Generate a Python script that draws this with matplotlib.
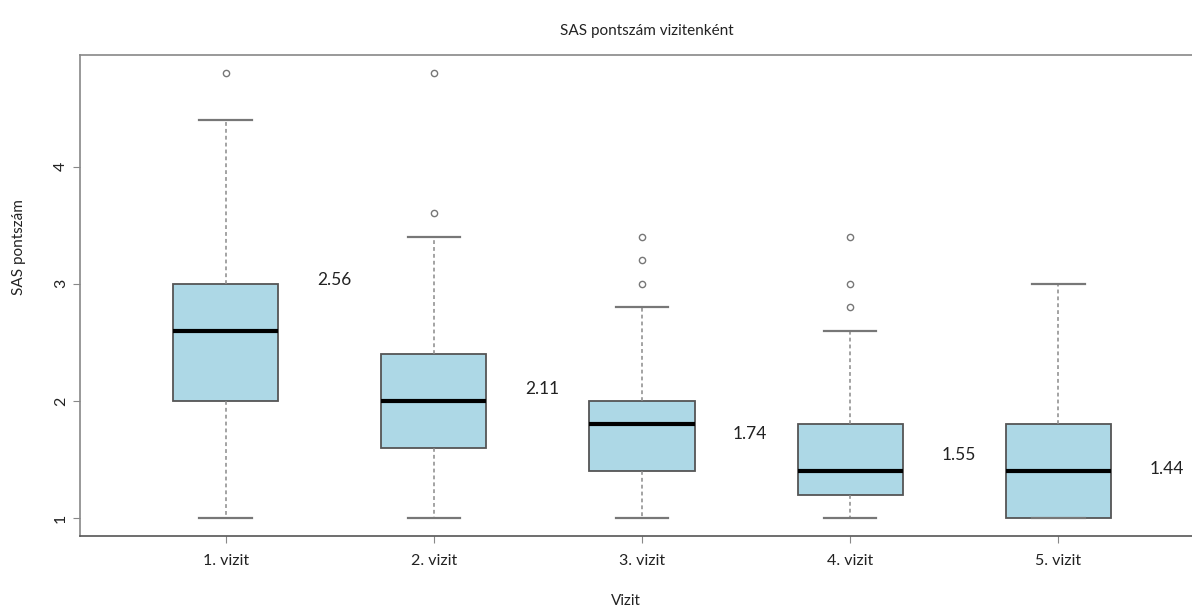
import matplotlib
matplotlib.use("Agg")
import matplotlib.pyplot as plt

# data
visits = ["1. vizit", "2. vizit", "3. vizit", "4. vizit", "5. vizit"]
whisker_low = [1.0, 1.0, 1.0, 1.0, 1.0]
q1 = [2.0, 1.6, 1.4, 1.2, 1.0]
medians = [2.6, 2.0, 1.8, 1.4, 1.4]
q3 = [3.0, 2.4, 2.0, 1.8, 1.8]
whisker_high = [4.4, 3.4, 2.8, 2.6, 3.0]
outliers = [[4.8], [3.6, 4.8], [3.0, 3.2, 3.4], [2.8, 3.0, 3.4], []]
means = ["2.56", "2.11", "1.74", "1.55", "1.44"]
mean_label_y = [3.03, 2.10, 1.72, 1.54, 1.42]

plt.rcParams["font.family"] = ["Lato", "DejaVu Sans"]

fig = plt.figure(figsize=(11.92, 6.10), dpi=100)
# axes run past the right edge, as in the cropped original
ax = fig.add_axes([0.0671, 0.1213, 0.943, 0.7885])

stats = []
for i in range(len(visits)):
    stats.append(dict(whislo=whisker_low[i], q1=q1[i], med=medians[i],
                      q3=q3[i], whishi=whisker_high[i], fliers=outliers[i]))

positions = list(range(1, len(visits) + 1))
ax.bxp(stats, positions=positions, widths=0.505, patch_artist=True,
       showfliers=True,
       boxprops=dict(facecolor="#add8e6", edgecolor="#555555", linewidth=1.3),
       medianprops=dict(color="black", linewidth=3),
       whiskerprops=dict(color="#8a8a8a", linestyle=(0, (2.5, 2)), linewidth=1.1),
       capprops=dict(color="#777777", linewidth=1.6),
       flierprops=dict(marker="o", markersize=4.5, markerfacecolor="none",
                       markeredgecolor="#777777", markeredgewidth=1.0))

for i, txt in enumerate(means):
    ax.text(positions[i] + 0.52, mean_label_y[i], txt, fontsize=12.5,
            ha="center", va="center", color="#222222")

ax.set_xlim(0.3, 5.7)
ax.set_ylim(0.848, 4.952)
ax.set_xticks(positions)
ax.set_xticklabels(visits, fontsize=11.5)
ax.set_yticks([1, 2, 3, 4])
ax.set_yticklabels(["1", "2", "3", "4"], fontsize=11.5, rotation=90, va="center")
ax.tick_params(axis="both", direction="out", length=5, color="#888888", labelcolor="#222222")
ax.tick_params(axis="x", pad=8)
for s in ax.spines.values():
    s.set_color("#888888")
    s.set_linewidth(1.2)
ax.spines["bottom"].set_color("#555555")

fig.text(0.543, 0.95, "SAS pontszám vizitenként", ha="center", va="center",
         fontsize=11, color="#222222")
fig.text(0.016, 0.595, "SAS pontszám", rotation=90, ha="center", va="center",
         fontsize=11, color="#222222")
fig.text(0.525, 0.015, "Vizit", ha="center", va="center", fontsize=11, color="#222222")

fig.savefig("out.png", dpi=100)
